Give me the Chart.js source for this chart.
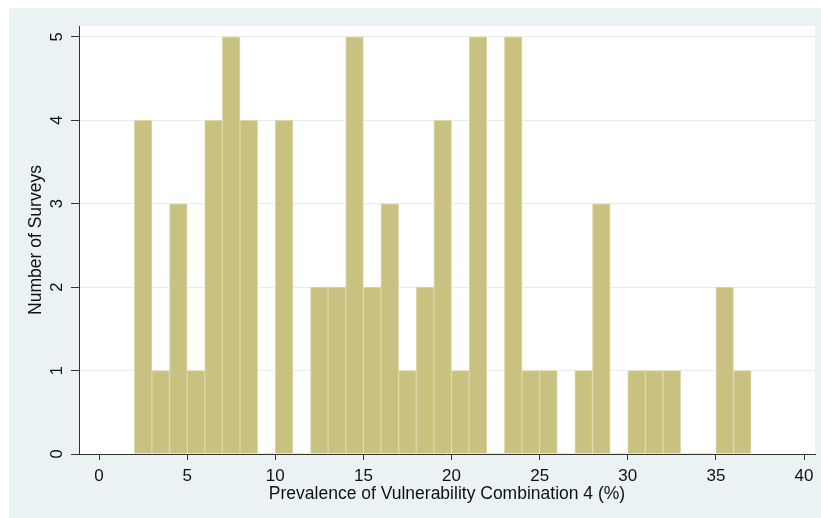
<!DOCTYPE html>
<html>
<head>
<meta charset="utf-8">
<script src="https://cdn.jsdelivr.net/npm/chart.js@4.4.1/dist/chart.umd.min.js"></script>
<style>
  body { margin: 0; background: #fff; }
  canvas { display: block; }
</style>
</head>
<body>
<canvas id="hist" width="821" height="518"></canvas>
<script>
// DATA
const binStarts = [2, 3, 4, 5, 6, 7, 8, 9, 10, 11, 12, 13, 14, 15, 16, 17, 18, 19,
                   20, 21, 22, 23, 24, 25, 26, 27, 28, 29, 30, 31, 32, 33, 34, 35, 36];
const surveyCounts = [4, 1, 3, 1, 4, 5, 4, 0, 4, 0, 2, 2, 5, 2, 3, 1, 2, 4,
                      1, 5, 0, 5, 1, 1, 0, 1, 3, 0, 1, 1, 1, 0, 0, 2, 1];
const xTicks = [0, 5, 10, 15, 20, 25, 30, 35, 40];
const yTicks = [0, 1, 2, 3, 4, 5];
const xTitle = 'Prevalence of Vulnerability Combination 4 (%)';
const yTitle = 'Number of Surveys';

// BACKGROUND (stata-like graph region + white plot region)
const background = {
    id: 'background',
    beforeDraw(chart) {
        const { ctx, chartArea } = chart;
        ctx.save();
        ctx.fillStyle = '#ffffff';
        ctx.fillRect(0, 0, chart.width, chart.height);
        ctx.fillStyle = '#eaf2f3';
        ctx.fillRect(9, 8, chart.width - 9, chart.height - 8);
        ctx.fillStyle = '#ffffff';
        ctx.fillRect(chartArea.left, chartArea.top,
            chartArea.right - chartArea.left, chartArea.bottom - chartArea.top);
        ctx.restore();
    }
}

const font = 'Liberation Sans, Arial, sans-serif';

// CHART
const ctx = document.getElementById('hist').getContext('2d');
const hist = new Chart(ctx, {
    type: 'bar',
    data: {
        datasets: [{
            data: binStarts.map((s, i) => ({ x: s + 0.5, y: surveyCounts[i] })),
            backgroundColor: '#c8c17f',
            borderColor: '#dcd8a6',
            borderWidth: c => (c.raw && c.raw.y ? 1 : 0),
            barPercentage: 1,
            categoryPercentage: 1
        }]
    },
    options: {
        responsive: false,
        animation: false,
        layout: { padding: { top: 26, right: 6, left: 0, bottom: 0 } },
        plugins: {
            legend: { display: false },
            tooltip: { enabled: false }
        },
        scales: {
            x: {
                type: 'linear',
                min: -1.135,
                max: 40.624,
                offset: false,
                afterBuildTicks: s => { s.ticks = xTicks.map(v => ({ value: v })) },
                afterFit: s => { s.height = 64 },
                grid: { display: true, drawOnChartArea: false, offset: false, tickLength: 6, tickColor: '#333' },
                border: { color: '#333', width: 1 },
                ticks: { color: '#111', font: { family: font, size: 17 }, padding: 6, maxRotation: 0, autoSkip: false },
                title: {
                    display: true, text: xTitle, color: '#111',
                    font: { family: font, size: 17.5 },
                    padding: { top: 0, bottom: 13.5 }
                }
            },
            y: {
                min: 0,
                max: 5.13,
                afterBuildTicks: s => { s.ticks = yTicks.map(v => ({ value: v })) },
                afterFit: s => { s.width = 79 },
                grid: { color: '#e6eef0', tickColor: '#333', tickLength: 8 },
                border: { color: '#333', width: 1 },
                ticks: {
                    color: '#111', font: { family: font, size: 16.5 },
                    minRotation: 90, maxRotation: 90, crossAlign: 'center',
                    padding: 8.5, autoSkip: false
                },
                title: {
                    display: true, text: yTitle, color: '#111',
                    font: { family: font, size: 17.5 },
                    padding: { top: 26, bottom: 0 }
                }
            }
        }
    },
    plugins: [background]
})
</script>
</body>
</html>
